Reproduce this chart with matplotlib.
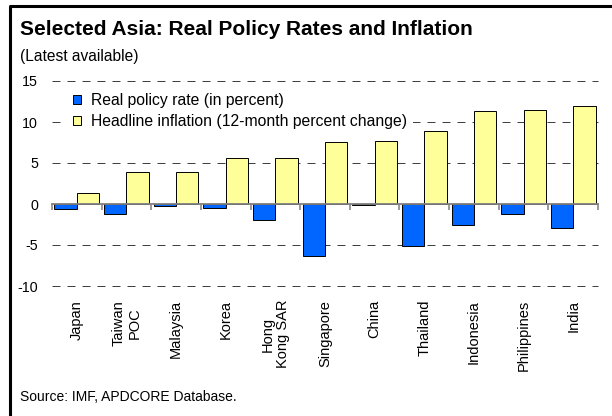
import matplotlib
matplotlib.use("Agg")
import matplotlib.pyplot as plt
from matplotlib.lines import Line2D
import numpy as np

plt.rcParams['font.family'] = ['Liberation Sans', 'DejaVu Sans']

# data
countries = ["Japan", "Taiwan\nPOC", "Malaysia", "Korea", "Hong\nKong SAR",
             "Singapore", "China", "Thailand", "Indonesia", "Philippines", "India"]
real_rate = [-0.65, -1.25, -0.25, -0.5, -1.9, -6.35, -0.15, -5.1, -2.5, -1.2, -2.95]
inflation = [1.4, 3.85, 3.9, 5.55, 5.65, 7.6, 7.7, 8.9, 11.35, 11.45, 11.95]
yticks = [-10, -5, 0, 5, 10, 15]

blue = "#0066ff"
yellow = "#ffff99"

W, H = 612, 416
fig = plt.figure(figsize=(W / 100, H / 100), dpi=100)

# frame (cut off at right and bottom like the reference)
fig.add_artist(Line2D([10 / W, 10 / W, 1.02], [-0.02, 1 - 6 / H, 1 - 6 / H],
                      transform=fig.transFigure, color="black", lw=2.2))

fig.text(20 / W, 1 - 35 / H, "Selected Asia: Real Policy Rates and Inflation",
         fontsize=15, fontweight="bold", va="baseline", ha="left")
fig.text(20 / W, 1 - 61 / H, "(Latest available)", fontsize=11.2,
         va="baseline", ha="left")
fig.text(20 / W, 1 - 397 / H, "Source: IMF, APDCORE Database.", fontsize=10,
         va="center", ha="left")

ax = fig.add_axes([52 / W, 1 - 286 / H, 546 / W, 205 / H])
x = np.arange(len(countries))
bw = 0.45
ax.bar(x - bw / 2, real_rate, bw, color=blue, edgecolor="black", lw=0.7,
       label="Real policy rate (in percent)", zorder=3)
ax.bar(x + bw / 2, inflation, bw, color=yellow, edgecolor="black", lw=0.7,
       label="Headline inflation (12-month percent change)", zorder=3)

ax.set_xlim(-0.5, len(countries) - 0.5)
ax.set_ylim(-10, 15)
ax.set_yticks(yticks)
ax.set_yticklabels([str(v) for v in yticks])
ax.yaxis.grid(True, color="#404040", lw=0.72, linestyle=(0, (8, 7)))
for gl in ax.get_ygridlines():
    gl.set_clip_on(False)
ax.get_ygridlines()[yticks.index(0)].set_visible(False)
ax.set_axisbelow(True)
for s in ax.spines.values():
    s.set_visible(False)
ax.tick_params(axis="y", length=0, pad=10, labelsize=10.3)
ax.set_xticks(x)
ax.set_xticklabels(countries, rotation=90, fontsize=10.5, ha="center", va="top",
                   multialignment="center")
ax.tick_params(axis="x", length=0, pad=10)

# zero axis with category boundary ticks
zax = ax.secondary_xaxis(10 / 25)
zax.set_xticks(np.arange(len(countries) + 1) - 0.5)
zax.set_xticklabels([])
zax.spines["bottom"].set_color("#808080")
zax.spines["bottom"].set_linewidth(1.3)
zax.tick_params(axis="x", direction="out", length=4, width=1.1, color="#808080")
zax.set_zorder(4)

leg = ax.legend(loc="upper left", bbox_to_anchor=(0.027, 0.972), frameon=True,
                fontsize=11.3, handlelength=0.5, handleheight=0.5,
                handletextpad=0.62, labelspacing=0.41, borderpad=0.4,
                borderaxespad=0, fancybox=False)
leg.get_frame().set_facecolor("white")
leg.get_frame().set_edgecolor("none")
leg.get_frame().set_alpha(1)
leg.set_zorder(5)

fig.savefig("out.png", dpi=100)
